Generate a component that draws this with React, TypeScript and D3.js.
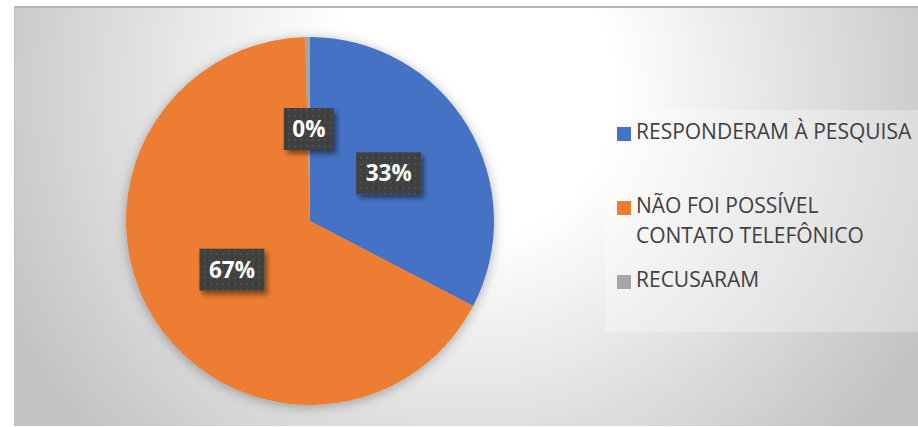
import React, { useEffect, useRef } from "react";
import * as d3 from "d3";

const categories = [
  "RESPONDERAM À PESQUISA",
  "NÃO FOI POSSÍVEL CONTATO TELEFÔNICO",
  "RECUSARAM",
];
const legendLines = [
  ["RESPONDERAM À PESQUISA"],
  ["NÃO FOI POSSÍVEL", "CONTATO TELEFÔNICO"],
  ["RECUSARAM"],
];
const values = [80, 164, 1];
const colors = ["#4472C4", "#ED7D31", "#A5A5A5"];

const W = 918;
const H = 427;

export default function App() {
  const ref = useRef<SVGSVGElement | null>(null);

  useEffect(() => {
    const svg = d3.select(ref.current);
    svg.selectAll("*").remove();

    const defs = svg.append("defs");
    const bg = defs
      .append("radialGradient")
      .attr("id", "bg")
      .attr("gradientUnits", "userSpaceOnUse")
      .attr("cx", 470)
      .attr("cy", 90)
      .attr("r", 520);
    bg.append("stop").attr("offset", 0).attr("stop-color", "#ffffff");
    bg.append("stop").attr("offset", 0.28).attr("stop-color", "#ffffff");
    bg.append("stop").attr("offset", 1).attr("stop-color", "#c2c2c2");

    const pat = defs
      .append("pattern")
      .attr("id", "dots")
      .attr("patternUnits", "userSpaceOnUse")
      .attr("width", 6)
      .attr("height", 6);
    pat.append("rect").attr("width", 6).attr("height", 6).attr("fill", "#404040");
    pat
      .append("rect")
      .attr("x", 2)
      .attr("y", 2)
      .attr("width", 2)
      .attr("height", 2)
      .attr("fill", "#4f4f4f");

    const pieShadow = defs
      .append("filter")
      .attr("id", "pieShadow")
      .attr("x", "-20%")
      .attr("y", "-20%")
      .attr("width", "140%")
      .attr("height", "140%");
    pieShadow
      .append("feDropShadow")
      .attr("dx", 0)
      .attr("dy", 2)
      .attr("stdDeviation", 6)
      .attr("flood-color", "#000")
      .attr("flood-opacity", 0.3);

    const boxShadow = defs
      .append("filter")
      .attr("id", "boxShadow")
      .attr("x", "-30%")
      .attr("y", "-30%")
      .attr("width", "160%")
      .attr("height", "160%");
    boxShadow
      .append("feDropShadow")
      .attr("dx", 3)
      .attr("dy", 4)
      .attr("stdDeviation", 2.5)
      .attr("flood-color", "#000")
      .attr("flood-opacity", 0.45);

    // chart area
    svg
      .append("rect")
      .attr("x", 14)
      .attr("y", 7)
      .attr("width", W - 14)
      .attr("height", 419)
      .attr("fill", "url(#bg)");
    svg
      .append("line")
      .attr("x1", 14)
      .attr("x2", W)
      .attr("y1", 7)
      .attr("y2", 7)
      .attr("stroke", "#b5b5b5")
      .attr("stroke-width", 2);
    svg
      .append("line")
      .attr("x1", 14.5)
      .attr("x2", 14.5)
      .attr("y1", 7)
      .attr("y2", 426)
      .attr("stroke", "#c0c0c0")
      .attr("stroke-width", 1);

    // legend box
    svg
      .append("rect")
      .attr("x", 605)
      .attr("y", 110)
      .attr("width", W - 605)
      .attr("height", 222)
      .attr("fill", "#ffffff")
      .attr("fill-opacity", 0.3);

    // pie
    const cx = 310;
    const cy = 221;
    const r = 184;
    const pie = d3
      .pie<number>()
      .sort(null)
      .value((d) => d)
      .startAngle(0)
      .endAngle(2 * Math.PI);
    const arcs = pie(values);
    const arc = d3.arc<d3.PieArcDatum<number>>().innerRadius(0).outerRadius(r);
    const g = svg.append("g").attr("transform", `translate(${cx},${cy})`);
    const pg = g.append("g").attr("filter", "url(#pieShadow)");
    pg.selectAll("path")
      .data(arcs)
      .join("path")
      .attr("d", (d) => arc(d) as string)
      .attr("fill", (_d, i) => colors[i]);

    // labels
    const total = d3.sum(values);
    const labelArc = d3
      .arc<d3.PieArcDatum<number>>()
      .innerRadius(r / 2)
      .outerRadius(r / 2);
    const lg = g.append("g");
    arcs.forEach((d) => {
      const [lx, ly] = labelArc.centroid(d);
      const txt = `${Math.round((d.value / total) * 100)}%`;
      const bw = txt.length === 2 ? 50 : 65;
      const bh = 42;
      lg.append("rect")
        .attr("x", lx - bw / 2)
        .attr("y", ly - bh / 2)
        .attr("width", bw)
        .attr("height", bh)
        .attr("fill", "url(#dots)")
        .attr("filter", "url(#boxShadow)");
      lg.append("text")
        .attr("x", lx)
        .attr("y", ly + 8)
        .attr("text-anchor", "middle")
        .attr("font-family", "'Open Sans', sans-serif")
        .attr("font-weight", 700)
        .attr("font-size", 22.5)
        .attr("fill", "#ffffff")
        .text(txt);
    });

    // legend
    const legendY = [139, 213, 287];
    const leg = svg.append("g");
    categories.forEach((_c, i) => {
      leg
        .append("rect")
        .attr("x", 617)
        .attr("y", legendY[i] - 12)
        .attr("width", 14)
        .attr("height", 14)
        .attr("fill", colors[i]);
      legendLines[i].forEach((line, j) => {
        leg
          .append("text")
          .attr("x", 636)
          .attr("y", legendY[i] + j * 30)
          .attr("font-family", "'Open Sans', sans-serif")
          .attr("font-size", 21)
          .attr("fill", "#404040")
          .text(line);
      });
    });
  }, []);

  return (
    <svg
      ref={ref}
      width={W}
      height={H}
      style={{ position: "absolute", left: 0, top: 0, background: "#ffffff" }}
    />
  );
}
